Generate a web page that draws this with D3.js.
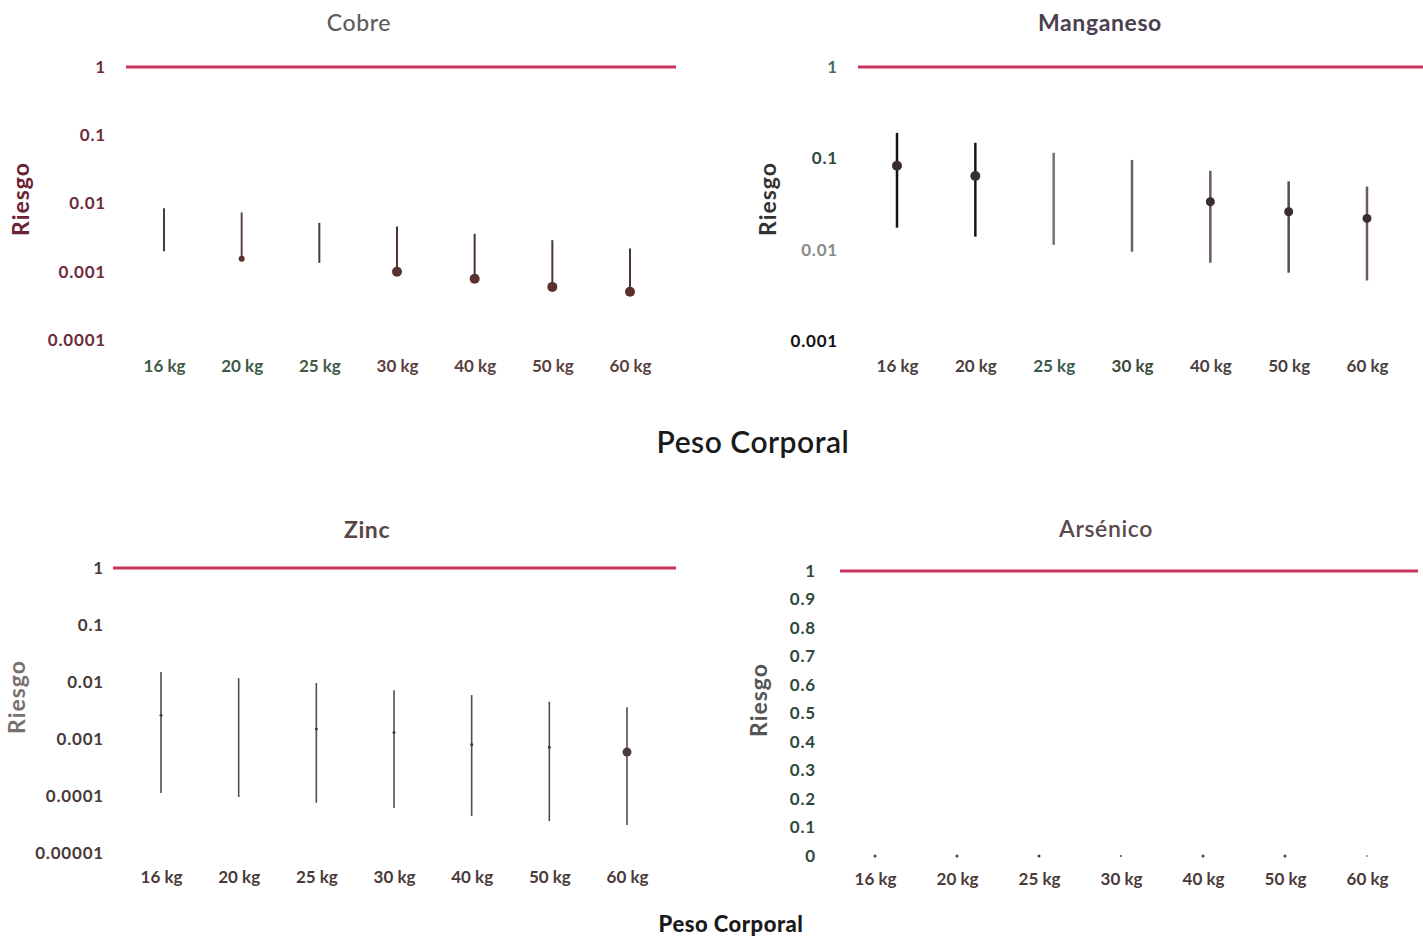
<!DOCTYPE html>
<html>
<head>
<meta charset="utf-8">
<script src="https://cdn.jsdelivr.net/npm/d3@7"></script>
<style>
  html, body { margin: 0; padding: 0; background: #ffffff; }
  svg { display: block; font-family: Lato, "Open Sans", sans-serif; }
</style>
</head>
<body>
<svg id="chart" width="1423" height="936"></svg>
<script>
// ---------------- DATA ----------------
const categories = ["16 kg", "20 kg", "25 kg", "30 kg", "40 kg", "50 kg", "60 kg"];

// Cobre (log scale)
const cobreMax  = [0.0085, 0.0074, 0.0052, 0.0046, 0.0036, 0.0029, 0.0022];
const cobreMin  = [0.0020, 0.00155, 0.00135, 0.00100, 0.00079, 0.00060, 0.00051];
const cobreMean = [0.0020, 0.00155, 0.00135, 0.00100, 0.00079, 0.00060, 0.00051];
const cobreTicks = [1, 0.1, 0.01, 0.001, 0.0001];

// Manganeso (log scale)
const mnMax  = [0.19, 0.148, 0.115, 0.096, 0.073, 0.056, 0.049];
const mnMin  = [0.0174, 0.0139, 0.0113, 0.0095, 0.0072, 0.0056, 0.0046];
const mnMean = [0.083, 0.064, 0.053, 0.047, 0.0335, 0.026, 0.022];
const mnTicks = [1, 0.1, 0.01, 0.001];

// Zinc (log scale)
const znMax  = [0.015, 0.0117, 0.0096, 0.0072, 0.0059, 0.0045, 0.0036];
const znMin  = [0.000113, 0.000096, 0.000076, 0.0000616, 0.0000447, 0.0000363, 0.0000311];
const znMean = [0.0026, 0.0019, 0.0015, 0.0013, 0.0008, 0.00072, 0.00059];
const znTicks = [1, 0.1, 0.01, 0.001, 0.0001, 0.00001];

// Arsénico (linear scale)
const asMean = [0, 0, 0, 0, 0, 0, 0];
const asTicks = [0, 0.1, 0.2, 0.3, 0.4, 0.5, 0.6, 0.7, 0.8, 0.9, 1];
const asTickLabels = ["0", "0.1", "0.2", "0.3", "0.4", "0.5", "0.6", "0.7", "0.8", "0.9", "1"];

// Reference limit (hazard quotient = 1)
const refValue = 1;

// ---------------- LAYOUT / STYLE ----------------
const panels = [
  {
    title: "Cobre", titleX: 359, titleY: 31, titleColor: "#5e5a5a", titleWeight: 500,
    type: "log", domain: [0.0001, 1], yRange: [340, 67],
    xRange: [164, 630], refX: [126, 676],
    tickX: 106, ticks: cobreTicks, tickColor: "#6b2d3a",
    xLabelY: 373, xColors: ["#3d5a44", "#3d5a44", "#3d5a44", "#5c4040", "#5c4040", "#5c4040", "#5c4040"],
    ylabX: 29, ylabY: 199, ylabColor: "#6b2233",
    max: cobreMax, min: cobreMin, mean: cobreMean,
    lineColors: ["#4a3a3a","#5a4545","#4a3a3a","#4a3535","#4a3535","#4a3535","#4a3535"],
    lineW: 2, dotR: [0, 3, 0, 5, 5, 5, 5], dotColor: "#5a3030"
  },
  {
    title: "Manganeso", titleX: 1100, titleY: 31, titleColor: "#4a3f4f", titleWeight: 700,
    type: "log", domain: [0.001, 1], yRange: [341, 67],
    xRange: [897, 1367], refX: [858, 1423],
    tickX: 838, ticks: mnTicks, tickColor: "#2d3a33",
    tickColors: ["#4a6a5a", "#2d4a3a", "#8a8a8a", "#111111"],
    xLabelY: 373, xColors: ["#4a4040", "#4a4040", "#3a5a50", "#3a4a3a", "#4a4040", "#4a4040", "#4a4040"],
    ylabX: 776, ylabY: 199, ylabColor: "#333333",
    max: mnMax, min: mnMin, mean: mnMean,
    lineColors: ["#151515","#151515","#7a7070","#6a6060","#6b5b5b","#5a4a4a","#6b5b5b"],
    lineW: 2.5, dotR: [5, 5, 0, 0, 4.5, 4.5, 4.5], dotColor: "#3a2d2d"
  },
  {
    title: "Zinc", titleX: 367, titleY: 538, titleColor: "#5a4545", titleWeight: 700,
    type: "log", domain: [0.00001, 1], yRange: [853, 568],
    xRange: [161, 627], refX: [113, 676],
    tickX: 104, ticks: znTicks, tickColor: "#4a3a3a",
    xLabelY: 884, xColors: ["#4a3a3a","#4a3a3a","#4a3a3a","#4a3a3a","#4a3a3a","#4a3a3a","#4a3a3a"],
    ylabX: 25, ylabY: 697, ylabColor: "#7a7070",
    max: znMax, min: znMin, mean: znMean,
    lineColors: ["#5a4a4a","#5a4a4a","#5a4a4a","#5a4a4a","#5a4a4a","#5a4a4a","#5a4a4a"],
    lineW: 1.6, dotR: [1.5, 0, 1.5, 1.5, 1.5, 1.5, 4.5], dotColor: "#4a3a3a"
  },
  {
    title: "Arsénico", titleX: 1106, titleY: 537, titleColor: "#5a4a4a", titleWeight: 600,
    type: "linear", domain: [0, 1], yRange: [856, 571],
    xRange: [875, 1367], refX: [840, 1418],
    tickX: 816, ticks: asTicks, tickLabels: asTickLabels, tickColor: "#2e4a38",
    xLabelY: 886, xColors: ["#4a3a3a","#4a3a3a","#4a3a3a","#4a3a3a","#4a3a3a","#4a3a3a","#4a3a3a"],
    ylabX: 767, ylabY: 700, ylabColor: "#555555",
    max: null, min: null, mean: asMean,
    lineColors: null, lineW: 0, dotR: [1.5, 1.5, 1.5, 1, 1.5, 1.5, 0.8], dotColor: "#4a4040"
  }
];

const redColor = "#c8335a";
const svg = d3.select("#chart");

panels.forEach(p => {
  const g = svg.append("g");
  const y = (p.type === "log" ? d3.scaleLog() : d3.scaleLinear()).domain(p.domain).range(p.yRange);
  const x = d3.scalePoint().domain(categories).range(p.xRange);

  // Title
  g.append("text")
    .attr("x", p.titleX).attr("y", p.titleY)
    .attr("text-anchor", "middle")
    .attr("font-size", 23).attr("font-weight", p.titleWeight)
    .attr("letter-spacing", 0.6)
    .attr("fill", p.titleColor)
    .text(p.title);

  // Y axis (labels only)
  const yAxis = d3.axisLeft(y)
    .tickValues(p.ticks)
    .tickSize(0)
    .tickPadding(0)
    .tickFormat((d, i) => p.tickLabels ? p.tickLabels[i] : String(d));
  const ya = g.append("g").attr("transform", `translate(${p.tickX},0)`).call(yAxis);
  ya.select(".domain").remove();
  ya.selectAll("text")
    .attr("font-family", "Lato, sans-serif")
    .attr("font-size", 17).attr("font-weight", 700)
    .attr("letter-spacing", 0.8)
    .attr("fill", (d, i) => p.tickColors ? p.tickColors[i] : p.tickColor);

  // X axis (labels only)
  const xAxis = d3.axisBottom(x).tickSize(0).tickPadding(0);
  const xa = g.append("g").attr("transform", `translate(0,${p.xLabelY - 13})`).call(xAxis);
  xa.select(".domain").remove();
  xa.selectAll("text")
    .attr("font-family", "Lato, sans-serif")
    .attr("font-size", 17).attr("font-weight", 700)
    .attr("letter-spacing", 0)
    .attr("fill", (d, i) => p.xColors[i]);

  // Y title
  g.append("text")
    .attr("transform", `translate(${p.ylabX},${p.ylabY}) rotate(-90)`)
    .attr("text-anchor", "middle")
    .attr("font-size", 23).attr("font-weight", 700)
    .attr("letter-spacing", 1)
    .attr("fill", p.ylabColor)
    .text("Riesgo");

  // Reference line at 1
  g.append("line")
    .attr("x1", p.refX[0]).attr("x2", p.refX[1])
    .attr("y1", y(refValue)).attr("y2", y(refValue))
    .attr("stroke", redColor).attr("stroke-width", 3);

  // Whiskers
  if (p.max) {
    g.selectAll("line.whisk").data(categories).enter().append("line")
      .attr("class", "whisk")
      .attr("x1", d => x(d)).attr("x2", d => x(d))
      .attr("y1", (d, i) => y(p.max[i])).attr("y2", (d, i) => y(p.min[i]))
      .attr("stroke", (d, i) => p.lineColors[i])
      .attr("stroke-width", p.lineW);
  }

  // Mean points
  g.selectAll("circle.pt").data(categories).enter().append("circle")
    .attr("class", "pt")
    .attr("cx", d => x(d))
    .attr("cy", (d, i) => y(p.mean[i]))
    .attr("r", (d, i) => p.dotR[i])
    .attr("fill", p.dotColor);
});

// Shared axis titles
svg.append("text")
  .attr("x", 753).attr("y", 453)
  .attr("text-anchor", "middle")
  .attr("font-size", 30).attr("font-weight", 600)
  .attr("letter-spacing", 0.5)
  .attr("fill", "#1a1a1a")
  .text("Peso Corporal");

svg.append("text")
  .attr("x", 731).attr("y", 932)
  .attr("text-anchor", "middle")
  .attr("font-size", 22).attr("font-weight", 900)
  .attr("letter-spacing", 0.5)
  .attr("fill", "#1a1a1a")
  .text("Peso Corporal");
</script>
</body>
</html>
